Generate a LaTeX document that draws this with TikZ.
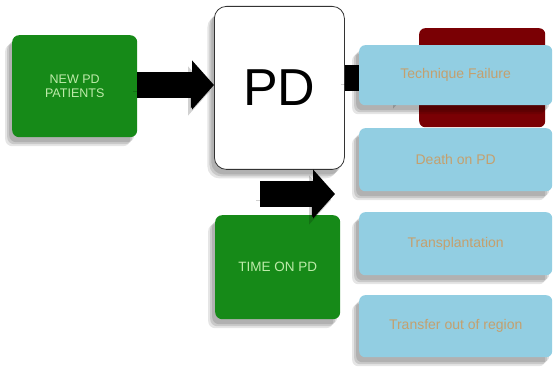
\documentclass[tikz,border=0pt]{standalone}
\usepackage{fontspec}
\setmainfont{Liberation Sans}
\usetikzlibrary{arrows.meta}
\definecolor{boxgreen}{RGB}{22,138,24}
\definecolor{greentext}{RGB}{190,235,170}
\definecolor{boxblue}{RGB}{146,206,226}
\definecolor{bluetext}{RGB}{196,160,110}
\definecolor{darkred}{RGB}{122,0,4}
\tikzset{
  shd/.style={
    preaction={fill=black,fill opacity=0.12,transform canvas={shift={(-3pt,-5pt)}}},
    preaction={fill=black,fill opacity=0.12,transform canvas={shift={(-5pt,-7pt)}}},
    preaction={fill=black,fill opacity=0.10,transform canvas={shift={(-7pt,-9pt)}}}},
  greenbox/.style={draw=none,fill=boxgreen,rounded corners=7pt,text=greentext,font=\fontsize{12.5}{14}\selectfont,align=center,shd},
  bluebox/.style={draw=none,fill=boxblue,rounded corners=6pt,text=bluetext,font=\fontsize{14}{16}\selectfont,align=center,shd},
  pdbox/.style={draw=black!80,line width=0.8pt,fill=white,rounded corners=12pt,font=\fontsize{52}{56}\selectfont,shd},
  bigarrow/.style={line width=26pt,black,-{Triangle[length=22pt,width=48pt]},
    preaction={draw=black,draw opacity=0.18,transform canvas={shift={(-4pt,-6pt)}}}},
}
\begin{document}
\begin{tikzpicture}[x=1pt,y=-1pt]
\useasboundingbox (0,0) rectangle (554,374);
% dark red box (behind)
\node[fill=darkred,rounded corners=6pt,minimum width=126pt,minimum height=99pt,anchor=north west,inner sep=0] (red) at (419,28) {};
% PD box
\node[pdbox,minimum width=130pt,minimum height=163pt,anchor=north west,inner sep=0] (pd) at (214,6) {PD};
% green boxes
\node[greenbox,minimum width=125pt,minimum height=102pt,anchor=north west,inner sep=0] (new) at (12,35) {NEW PD\\PATIENTS};
\node[greenbox,minimum width=125pt,minimum height=104pt,anchor=north west,inner sep=0,font=\fontsize{13.5}{15}\selectfont] (time) at (215,215) {TIME ON PD};
% arrows
\draw[bigarrow] (new.east |- 0,85) -- (pd.west |- 0,85);
\coordinate (stubstart) at (pd.east |- 0,78);
\draw[bigarrow] (stubstart) -- (red.west |- 0,78);
\coordinate (lowstart) at (260,194);
\coordinate (lowend) at (335,194);
\draw[bigarrow] (lowstart) -- (lowend);
% blue boxes
\node[bluebox,minimum width=193pt,minimum height=60pt,anchor=north west,inner sep=0] (tf) at (359,45) {Technique Failure};
\node[bluebox,minimum width=193pt,minimum height=63pt,anchor=north west,inner sep=0] (death) at (359,128) {Death on PD};
\node[bluebox,minimum width=193pt,minimum height=63pt,anchor=north west,inner sep=0] (tx) at (359,212) {Transplantation};
\node[bluebox,minimum width=193pt,minimum height=62pt,anchor=north west,inner sep=0] (tr) at (359,295) {Transfer out of region};
\end{tikzpicture}
\end{document}
